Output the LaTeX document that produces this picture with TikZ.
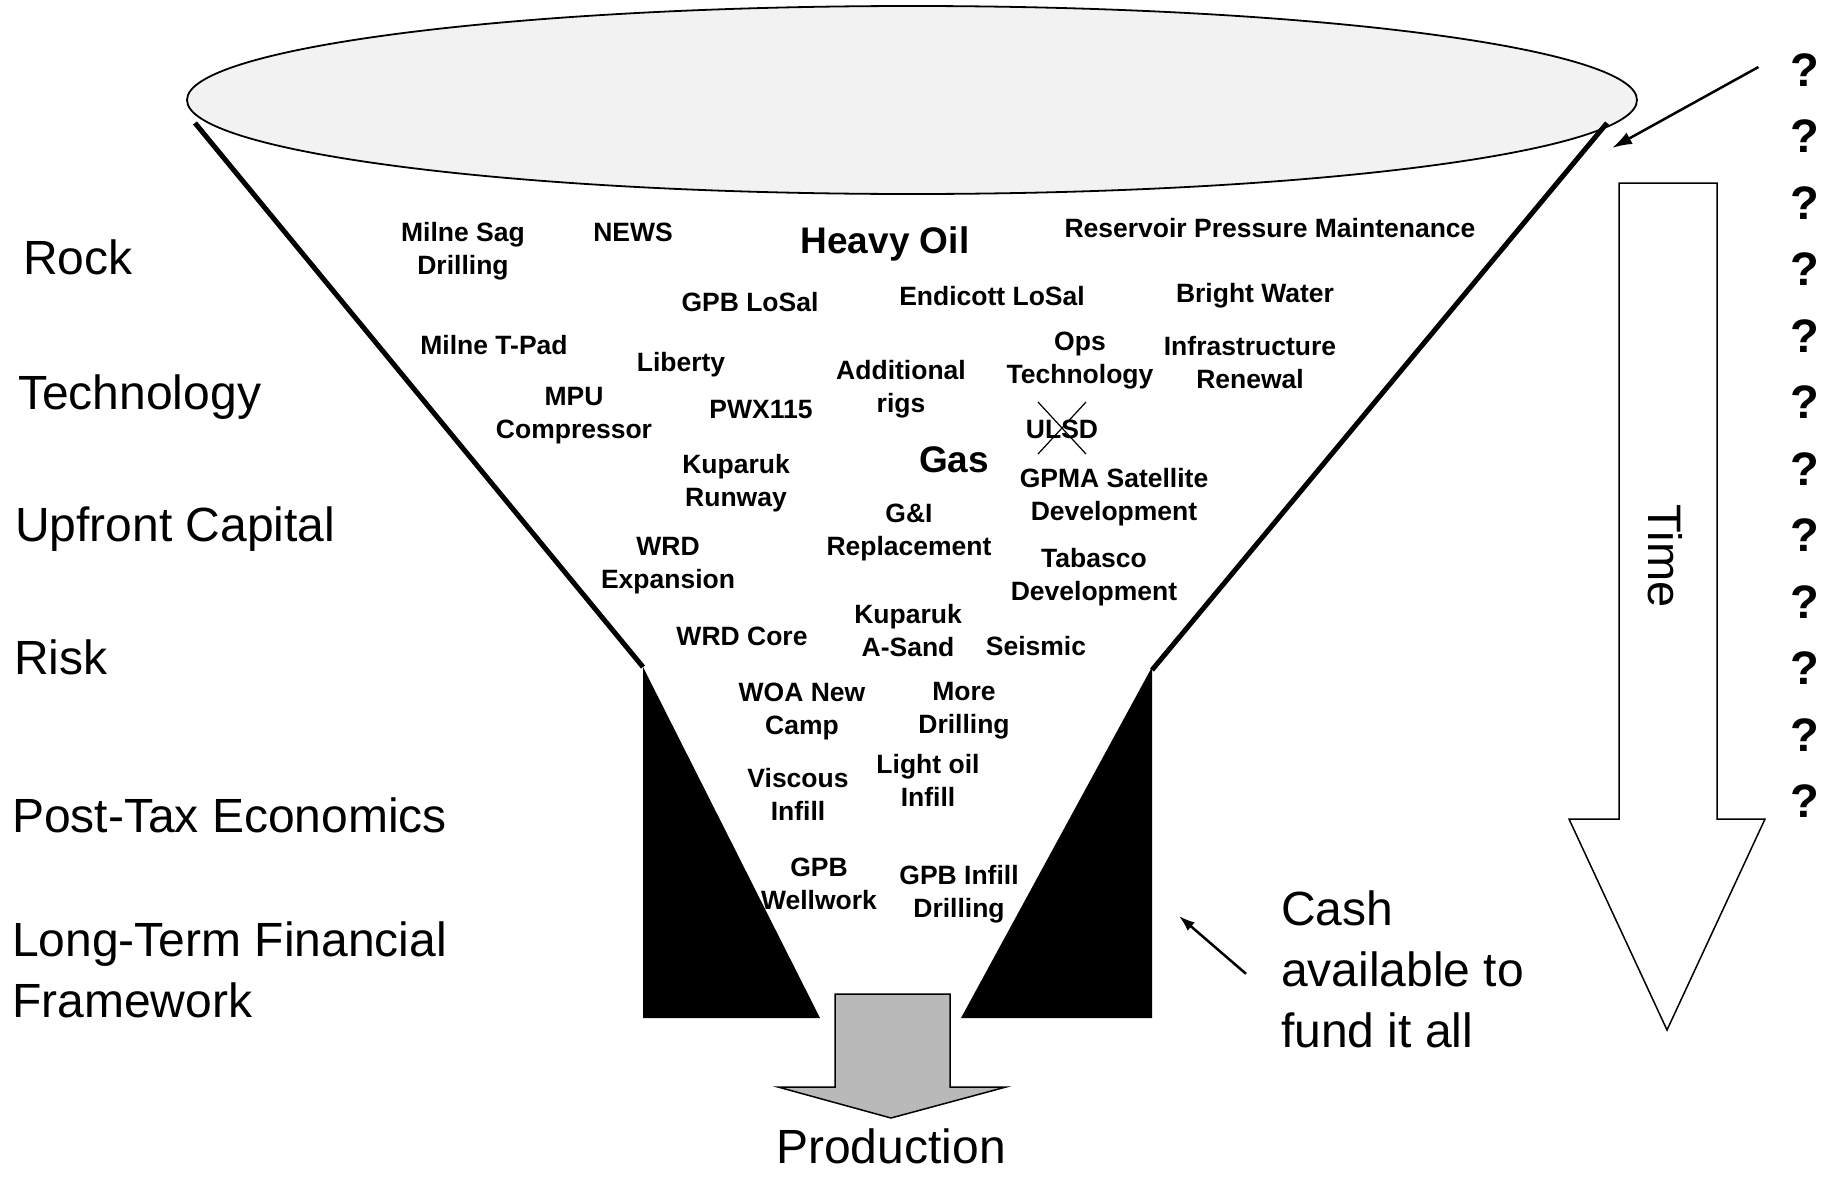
\documentclass[tikz,border=0pt]{standalone}
\usepackage{fontspec}
\setmainfont{Liberation Sans}
\usetikzlibrary{arrows.meta}
\tikzset{
    funnel-item/.style = {font=\fontsize{26.5}{33}\selectfont\bfseries, align=center, inner sep=0pt},
    funnel-item-big/.style = {font=\fontsize{37}{44}\selectfont\bfseries, inner sep=0pt},
    side-label/.style = {font=\fontsize{48}{61}\selectfont, align=left, inner sep=0pt, anchor=north west},
    query-mark/.style = {font=\fontsize{47}{50}\selectfont\bfseries, inner sep=0pt},
    pointer/.style = {line width=2.5pt, -{Latex[length=20pt, width=13pt]}},
    big-arrow/.style = {draw, line width=1.5pt, line join=miter},
}

\begin{document}
\begin{tikzpicture}[x=1pt, y=-1pt]
\useasboundingbox (0,0) rectangle (1834,1178);

% mouth of the funnel
\draw[line width=1.8pt, fill=gray!10] (912,100) ellipse [x radius=725pt, y radius=94pt];
\draw[line width=5pt] (195,123) -- (643,667);
\draw[line width=5pt] (1607,123) -- (1152,670);
\fill (643,667) -- (643,1018) -- (820,1018) -- cycle;
\fill (1152,667) -- (1152,1018) -- (961,1018) -- cycle;

% outflow
\filldraw[big-arrow, fill=gray!55] (835,994) -- (950,994) -- (950,1087) -- (1006,1087)
    -- (891,1118) -- (778,1087) -- (835,1087) -- cycle;
\node[font=\fontsize{48}{60}\selectfont, inner sep=0pt, anchor=base] (production) at (891,1163) {Production};

% time axis
\filldraw[big-arrow, fill=white] (1619,183) -- (1717,183) -- (1717,819) -- (1765,819)
    -- (1667,1030) -- (1569,819) -- (1619,819) -- cycle;
\node[font=\fontsize{47}{56}\selectfont, inner sep=0pt, rotate=-90] (time) at (1665,556) {Time};

% criteria
\node[side-label] (rock) at (23,240) {Rock};
\node[side-label] (technology) at (18,375) {Technology};
\node[side-label] (capital) at (15,507) {Upfront Capital};
\node[side-label] (risk) at (14,640) {Risk};
\node[side-label] (economics) at (12,798) {Post-Tax Economics};
\node[side-label] (framework) at (12,922) {Long-Term Financial\\Framework};
\node[side-label] (cash) at (1281,891) {Cash\\available to\\fund it all};

% projects in the funnel
\node[funnel-item] (milne-sag) at (463,251) {Milne Sag\\Drilling};
\node[funnel-item] (news) at (633,232) {NEWS};
\node[funnel-item-big] (heavy-oil) at (885,244) {Heavy Oil};
\node[funnel-item] (reservoir) at (1270,228) {Reservoir Pressure Maintenance};
\node[funnel-item] (gpb-losal) at (750,302) {GPB LoSal};
\node[funnel-item] (endicott) at (992,296) {Endicott LoSal};
\node[funnel-item] (bright-water) at (1255,296) {Bright Water};
\node[funnel-item] (milne-tpad) at (494,345) {Milne T-Pad};
\node[funnel-item] (liberty) at (681,365) {Liberty};
\node[funnel-item] (add-rigs) at (901,389) {Additional\\rigs};
\node[funnel-item] (ops-tech) at (1080,361) {Ops\\Technology};
\node[funnel-item] (infra) at (1250,363) {Infrastructure\\Renewal};
\node[funnel-item] (mpu) at (574,416) {MPU\\Compressor};
\node[funnel-item] (pwx) at (761,410) {PWX115};
\node[funnel-item] (ulsd) at (1062,429) {ULSD};
\node[funnel-item] (kup-runway) at (736,483) {Kuparuk\\Runway};
\node[funnel-item-big] (gas) at (954,460) {Gas};
\node[funnel-item] (gpma) at (1114,497) {GPMA Satellite\\Development};
\node[funnel-item] (gi-repl) at (909,532) {G\&I\\Replacement};
\node[funnel-item] (wrd-exp) at (668,566) {WRD\\Expansion};
\node[funnel-item] (tabasco) at (1094,577) {Tabasco\\Development};
\node[funnel-item] (kup-asand) at (908,631) {Kuparuk\\A-Sand};
\node[funnel-item] (wrd-core) at (742,636) {WRD Core};
\node[funnel-item] (seismic) at (1036,646) {Seismic};
\node[funnel-item] (woa) at (802,711) {WOA New\\Camp};
\node[funnel-item] (more-drill) at (964,711) {More\\Drilling};
\node[funnel-item] (light-oil) at (928,780) {Light oil\\Infill};
\node[funnel-item] (viscous) at (798,794) {Viscous\\Infill};
\node[funnel-item] (gpb-well) at (819,884) {GPB\\Wellwork};
\node[funnel-item] (gpb-infill) at (959,894) {GPB Infill\\Drilling};

% dropped project
\draw[line width=1.2pt] (ulsd.center) +(-24,-27) -- +(24,25)
    (ulsd.center) +(24,-27) -- +(-24,25);

% unknown future projects
\foreach \i in {1,...,12}
    \node[query-mark] (q-\i) at (1805,{70+66.5*(\i-1)}) {?};

\coordinate (rim) at (1612,148);
\coordinate (cash-tip) at (1179,916);
\draw[pointer] ([xshift=-32pt, yshift=3pt]q-1.west) -- (rim);
\draw[pointer, -{Latex[length=16pt, width=11pt]}] ([xshift=-35pt, yshift=-4pt]cash.west) -- (cash-tip);
\end{tikzpicture}
\end{document}
